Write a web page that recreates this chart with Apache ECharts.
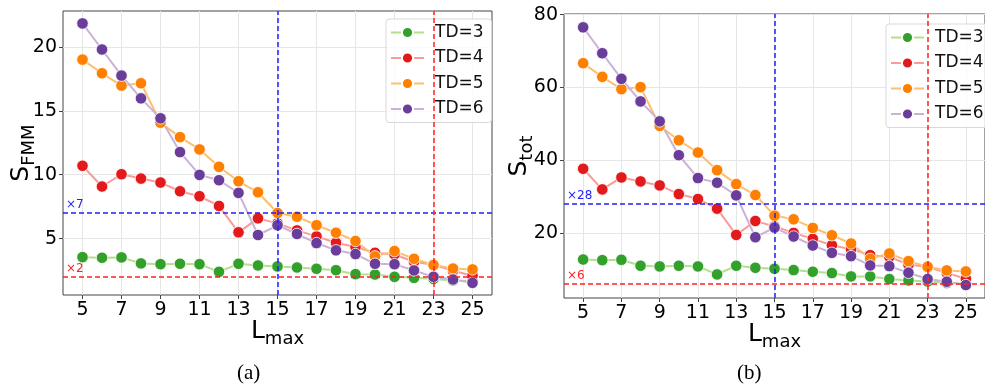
<!DOCTYPE html>
<html lang="en">
<head>
    <meta charset="UTF-8">
    <title>S vs Lmax</title>
    <script src="https://cdn.jsdelivr.net/npm/echarts@6/dist/echarts.min.js"></script>
</head>
<body style="margin:0">
<div id="content" style="height: 391px;width: 985px"></div>
<script>
    // x values (Lmax) and tick labels
    var lmax = [5, 6, 7, 8, 9, 10, 11, 12, 13, 14, 15, 16, 17, 18, 19, 20, 21, 22, 23, 24, 25];
    var xTicks = [5, 7, 9, 11, 13, 15, 17, 19, 21, 23, 25];
    var yTicksA = [5, 10, 15, 20];
    var yTicksB = [20, 40, 60, 80];

    // (a) S_FMM
    var fmmTD3 = [3.56, 3.51, 3.54, 3.07, 3.01, 3.04, 3.01, 2.41, 3.04, 2.91, 2.83, 2.75, 2.65, 2.54, 2.23, 2.20, 2.02, 1.94, 1.86, 1.73, 1.68];
    var fmmTD4 = [10.70, 9.08, 10.04, 9.70, 9.39, 8.71, 8.32, 7.56, 5.50, 6.59, 6.20, 5.65, 5.18, 4.69, 4.35, 3.90, 3.77, 3.20, 2.96, 2.50, 2.10];
    var fmmTD5 = [19.0, 17.93, 16.97, 17.15, 14.07, 12.94, 11.98, 10.62, 9.49, 8.63, 7.01, 6.72, 6.05, 5.47, 4.82, 3.62, 4.03, 3.43, 2.94, 2.67, 2.60];
    var fmmTD6 = [21.83, 19.79, 17.75, 15.97, 14.41, 11.77, 9.99, 9.57, 8.58, 5.29, 6.05, 5.37, 4.66, 4.09, 3.80, 3.04, 3.01, 2.52, 2.02, 1.81, 1.55];

    // (b) S_tot
    var totTD3 = [12.69, 12.51, 12.6, 10.96, 10.78, 10.96, 10.78, 8.58, 10.96, 10.41, 10.14, 9.77, 9.32, 8.95, 8.04, 8.04, 7.31, 6.94, 6.67, 6.21, 6.0];
    var totTD4 = [37.63, 31.96, 35.25, 34.16, 33.06, 30.68, 29.32, 26.67, 19.45, 23.29, 21.8, 20.0, 18.36, 16.62, 15.53, 13.88, 13.42, 11.32, 10.6, 9.0, 7.4];
    var totTD5 = [66.67, 62.92, 59.54, 60.09, 49.41, 45.48, 42.1, 37.26, 33.42, 30.41, 24.75, 23.74, 21.37, 19.36, 17.08, 12.88, 14.34, 12.24, 10.68, 9.68, 9.41];
    var totTD6 = [76.53, 69.41, 62.37, 56.16, 50.68, 41.37, 35.07, 33.79, 30.32, 18.81, 21.46, 19.0, 16.53, 14.52, 13.61, 11.05, 10.87, 9.04, 7.31, 6.58, 5.66];

    // reference lines: [vertical x, horizontal y] per panel
    var blueA = [15, 7], redA = [23, 2];
    var blueB = [15, 28], redB = [23, 6];

    var names = ['TD=3', 'TD=4', 'TD=5', 'TD=6'];
    var markerColors = ['#33a02c', '#e31a1c', '#ff7f00', '#6a3d9a'];
    var lineColors = ['#b2df8a', '#fb9a99', '#fdbf6f', '#cab2d6'];

    var font = 'DejaVu Sans';
    var myChart = echarts.init(document.getElementById('content'));

    function pairs(ys) {
        return lmax.map(function (x, i) { return [x, ys[i]]; });
    }

    function xAxisFor(idx) {
        return {
            type: 'value', gridIndex: idx, min: 4, max: 26,
            name: '{l|L}{s|max}', nameLocation: 'middle', nameGap: 24, nameMoveOverlap: false,
            nameTextStyle: {
                rich: {
                    l: {fontFamily: font, fontSize: 25, color: '#000', verticalAlign: 'bottom', padding: [0, 0, 4, 0]},
                    s: {fontFamily: font, fontSize: 18, color: '#000', verticalAlign: 'bottom'}
                }
            },
            axisLine: {show: false},
            axisTick: {show: true, length: 4, lineStyle: {color: '#444'}, customValues: xTicks},
            axisLabel: {fontFamily: font, fontSize: 19, color: '#000', margin: 6, customValues: xTicks},
            splitLine: {show: true, lineStyle: {color: '#e6e6e6', width: 1}}
        };
    }

    function yAxisFor(idx, min, max, ticks, sub, gap) {
        return {
            type: 'value', gridIndex: idx, min: min, max: max,
            name: '{s|S}{b|' + sub + '}', nameLocation: 'middle', nameGap: gap, nameMoveOverlap: false,
            nameTextStyle: {
                rich: {
                    s: {fontFamily: font, fontSize: 25, color: '#000', verticalAlign: 'bottom', padding: [0, 0, 4, 0]},
                    b: {fontFamily: font, fontSize: 18, color: '#000', verticalAlign: 'bottom'}
                }
            },
            axisLine: {show: false},
            axisTick: {show: true, length: 4, lineStyle: {color: '#444'}, customValues: ticks},
            axisLabel: {fontFamily: font, fontSize: 19, color: '#000', margin: 6, customValues: ticks},
            splitLine: {show: true, lineStyle: {color: '#e6e6e6', width: 1}}
        };
    }

    // dashed reference lines; one markLine series per line
    function refLine(g, key, val, color, withLabel) {
        var item = {};
        item[key] = val;
        item.label = withLabel
            ? {show: true, position: 'insideStartTop', formatter: '×' + val, color: color, fontFamily: font, fontSize: 12, distance: [3, 2]}
            : {show: false};
        return {
            type: 'line', xAxisIndex: g, yAxisIndex: g, data: [], silent: true, color: color,
            markLine: {
                silent: true, symbol: 'none', animation: false,
                lineStyle: {color: color, type: [5, 3], width: 1.5},
                data: [item]
            }
        };
    }

    var setsA = [fmmTD3, fmmTD4, fmmTD5, fmmTD6];
    var setsB = [totTD3, totTD4, totTD5, totTD6];
    var series = [];
    [setsA, setsB].forEach(function (sets, g) {
        sets.forEach(function (ys, i) {
            series.push({
                name: names[i], type: 'line', xAxisIndex: g, yAxisIndex: g,
                data: pairs(ys),
                symbol: 'circle', symbolSize: 11.5,
                itemStyle: {color: markerColors[i], borderColor: '#fff', borderWidth: 0.8},
                lineStyle: {color: lineColors[i], width: 2},
                emphasis: {disabled: true},
                animation: false
            });
        });
    });
    series.push(
        refLine(0, 'xAxis', blueA[0], '#1f1fff', false), refLine(0, 'yAxis', blueA[1], '#1f1fff', true),
        refLine(0, 'xAxis', redA[0], '#ff2020', false), refLine(0, 'yAxis', redA[1], '#ff2020', true),
        refLine(1, 'xAxis', blueB[0], '#1f1fff', false), refLine(1, 'yAxis', blueB[1], '#1f1fff', true),
        refLine(1, 'xAxis', redB[0], '#ff2020', false), refLine(1, 'yAxis', redB[1], '#ff2020', true)
    );

    function legendFor(left, top) {
        return {
            data: names, orient: 'vertical', left: left, top: top,
            itemWidth: 33, itemHeight: 14, itemGap: 8.5,
            padding: [5, 8, 5, 4],
            backgroundColor: 'rgba(255,255,255,0.8)', borderColor: '#d9d9d9', borderWidth: 1, borderRadius: 3,
            textStyle: {fontFamily: font, fontSize: 17, color: '#111', padding: [0, 0, 0, 6]},
            selectedMode: false
        };
    }

    var option = {
        backgroundColor: '#fff',
        animation: false,
        grid: [
            {left: 63, top: 11, width: 429, height: 284, show: true, borderColor: '#444', borderWidth: 1, backgroundColor: 'transparent'},
            {left: 564, top: 14, width: 428, height: 284, show: true, borderColor: '#444', borderWidth: 1, backgroundColor: 'transparent'}
        ],
        legend: [legendFor(386, 19), legendFor(886, 24)],
        xAxis: [xAxisFor(0), xAxisFor(1)],
        yAxis: [yAxisFor(0, 0.6, 22.8, yTicksA, 'FMM', 25), yAxisFor(1, 2.1, 80.2, yTicksB, 'tot', 28)],
        graphic: [
            {type: 'text', left: 237, top: 363, style: {text: '(a)', font: '21px "Liberation Serif"', fill: '#000'}},
            {type: 'text', left: 737, top: 363, style: {text: '(b)', font: '21px "Liberation Serif"', fill: '#000'}}
        ],
        series: series
    };
    myChart.setOption(option);
</script>
</body>
</html>
